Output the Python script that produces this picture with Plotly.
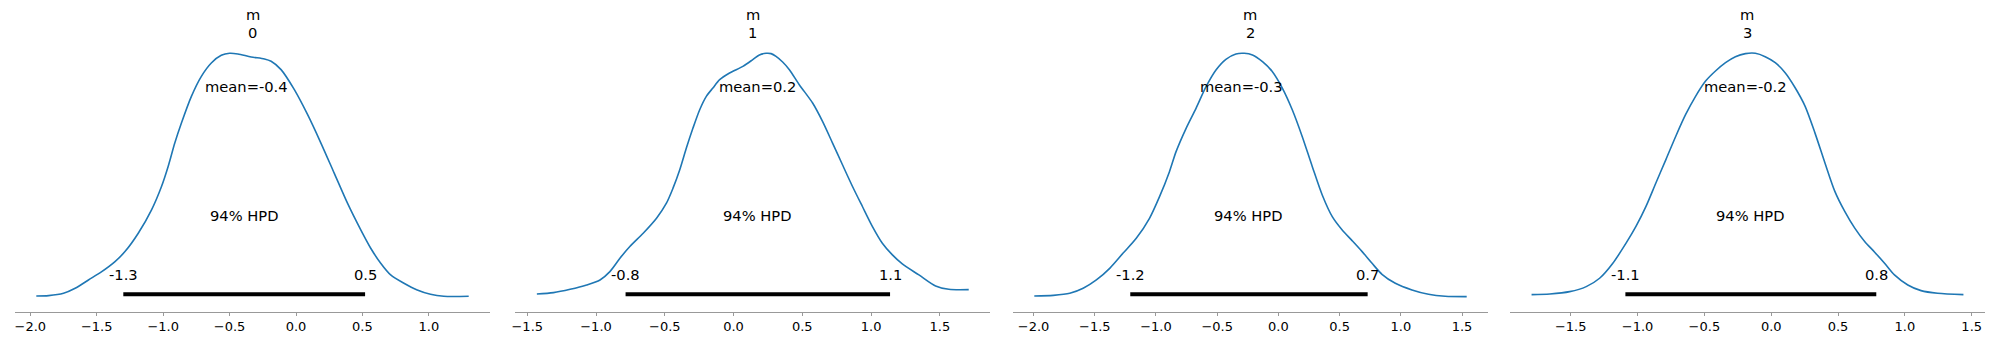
import plotly.graph_objects as go

# ---------------- data ----------------
panel_labels = ["0", "1", "2", "3"]
var_name = "m"

x0 = [-1.955, -1.8625, -1.75, -1.6625, -1.5625, -1.4625, -1.3625, -1.2875, -1.1875, -1.0875,
      -1.0125, -0.9625, -0.9125, -0.8625, -0.7875, -0.7125, -0.6375, -0.5625, -0.5, -0.4375,
      -0.3375, -0.2375, -0.1875, -0.1125, -0.0125, 0.0875, 0.1875, 0.2875, 0.3875, 0.4875,
      0.5625, 0.6375, 0.7125, 0.8125, 0.9125, 1.0125, 1.1125, 1.3]
d0 = [0.0138, 0.0152, 0.0247, 0.0450, 0.0789, 0.1127, 0.1534, 0.1940, 0.2685, 0.3633,
      0.4582, 0.5394, 0.6343, 0.7155, 0.8239, 0.9052, 0.9594, 0.9905, 0.9986, 0.9959,
      0.9837, 0.9756, 0.9661, 0.9323, 0.8510, 0.7494, 0.6343, 0.5123, 0.3904, 0.2820,
      0.2075, 0.1466, 0.0992, 0.0653, 0.0382, 0.0206, 0.0125, 0.0125]

x1 = [-1.430, -1.309, -1.188, -1.068, -0.971, -0.899, -0.826, -0.754, -0.657, -0.560,
      -0.488, -0.440, -0.391, -0.343, -0.295, -0.246, -0.198, -0.150, -0.101, -0.029,
      0.068, 0.140, 0.188, 0.237, 0.273, 0.309, 0.357, 0.406, 0.478, 0.575, 0.647, 0.720,
      0.792, 0.865, 0.937, 1.010, 1.082, 1.155, 1.227, 1.348, 1.469, 1.565, 1.710]
d1 = [0.0219, 0.0274, 0.0409, 0.0585, 0.0789, 0.1127, 0.1669, 0.2143, 0.2685, 0.3295,
      0.3904, 0.4514, 0.5259, 0.6139, 0.6952, 0.7697, 0.8239, 0.8578, 0.8916, 0.9187,
      0.9458, 0.9729, 0.9919, 0.9986, 0.9973, 0.9864, 0.9634, 0.9323, 0.8713, 0.7968, 0.7223, 0.6343,
      0.5462, 0.4582, 0.3769, 0.2956, 0.2279, 0.1805, 0.1439, 0.0992, 0.0545, 0.0409, 0.0396]

x2 = [-1.994, -1.839, -1.704, -1.595, -1.487, -1.378, -1.270, -1.161, -1.053, -0.971,
      -0.890, -0.836, -0.754, -0.673, -0.591, -0.510, -0.429, -0.347, -0.279, -0.212,
      -0.130, -0.049, 0.033, 0.114, 0.195, 0.277, 0.358, 0.440, 0.521, 0.602,
      0.684, 0.765, 0.846, 0.955, 1.091, 1.226, 1.362, 1.538]
d2 = [0.0138, 0.0165, 0.0247, 0.0450, 0.0789, 0.1263, 0.1872, 0.2482, 0.3295, 0.4175,
      0.5191, 0.6004, 0.6952, 0.7765, 0.8645, 0.9323, 0.9756, 0.9973, 1.0000, 0.9932,
      0.9661, 0.9255, 0.8578, 0.7697, 0.6613, 0.5394, 0.4243, 0.3362, 0.2820, 0.2387,
      0.1940, 0.1466, 0.1019, 0.0653, 0.0382, 0.0206, 0.0125, 0.0111]

x3 = [-1.793, -1.656, -1.508, -1.384, -1.284, -1.185, -1.086, -1.012, -0.937, -0.863,
      -0.788, -0.714, -0.640, -0.565, -0.491, -0.417, -0.342, -0.268, -0.193, -0.119,
      -0.045, 0.030, 0.104, 0.179, 0.253, 0.327, 0.402, 0.476, 0.550, 0.625,
      0.699, 0.774, 0.848, 0.922, 1.022, 1.121, 1.245, 1.438]
d3 = [0.0192, 0.0219, 0.0314, 0.0518, 0.0857, 0.1466, 0.2279, 0.2956, 0.3769, 0.4717,
      0.5665, 0.6613, 0.7494, 0.8239, 0.8848, 0.9255, 0.9594, 0.9837, 0.9959, 0.9973,
      0.9837, 0.9594, 0.9187, 0.8578, 0.7833, 0.6749, 0.5530, 0.4379, 0.3566, 0.2888,
      0.2347, 0.1913, 0.1466, 0.0992, 0.0585, 0.0355, 0.0247, 0.0192]

means = [-0.375, 0.176, -0.298, -0.189]
hpd_low = [-1.30, -0.785, -1.210, -1.091]
hpd_high = [0.52, 1.138, 0.729, 0.786]
credible_label = "94% HPD"

xs = [x0, x1, x2, x3]
ds = [d0, d1, d2, d3]

# ---------------- layout ----------------
W, H = 1995, 339
dom_px = [(10.7, 487.3), (512.3, 988.3), (1010.7, 1487.3), (1509.0, 1985.0)]
y_top_px, y_bot_px = 41.0, 311.7
ydom = [(H - y_bot_px) / H, (H - y_top_px) / H]

curve_color = "#1f77b4"
font_family = "DejaVu Sans"
text_size = 14.7
tick_size = 13

fig = go.Figure()
layout = dict(
    width=W, height=H,
    margin=dict(l=0, r=0, t=0, b=0),
    paper_bgcolor="white", plot_bgcolor="white",
    showlegend=False,
    font=dict(family=font_family, color="black"),
)
annotations = []

for i in range(4):
    xa = "x" if i == 0 else f"x{i+1}"
    ya = "y" if i == 0 else f"y{i+1}"
    xk = "xaxis" if i == 0 else f"xaxis{i+1}"
    yk = "yaxis" if i == 0 else f"yaxis{i+1}"
    x = xs[i]
    d = ds[i]
    xmin, xmax = min(x), max(x)
    span = xmax - xmin
    dmax = max(d)
    plot_height = 1.05 * dmax

    fig.add_trace(go.Scatter(x=x, y=d, mode="lines", xaxis=xa, yaxis=ya,
                             line=dict(color=curve_color, width=1.6, shape="spline", smoothing=0.8),
                             hoverinfo="skip"))
    fig.add_trace(go.Scatter(x=[hpd_low[i], hpd_high[i]], y=[0.02 * plot_height] * 2,
                             mode="lines", xaxis=xa, yaxis=ya,
                             line=dict(color="black", width=4), hoverinfo="skip"))

    layout[xk] = dict(
        domain=[dom_px[i][0] / W, dom_px[i][1] / W],
        anchor=ya,
        range=[xmin - 0.05 * span, xmax + 0.05 * span],
        showgrid=False, zeroline=False,
        showline=True, linecolor="#999999", linewidth=1,
        ticks="outside", ticklen=3, tickcolor="#999999", tickwidth=1,
        dtick=0.5, tick0=0, tickformat=".1f",
        tickfont=dict(family=font_family, size=tick_size, color="black"),
        fixedrange=True,
    )
    layout[yk] = dict(
        domain=ydom, anchor=xa,
        range=[-0.05 * dmax, 1.05 * dmax],
        visible=False, showgrid=False, zeroline=False, fixedrange=True,
    )

    def txt(xv, yv, s):
        annotations.append(dict(x=xv, y=yv, xref=xa, yref=ya, text=s, showarrow=False,
                                xanchor="center", yanchor="bottom", yshift=-4,
                                font=dict(family=font_family, size=text_size, color="black")))

    txt(means[i], 0.8 * plot_height, f"mean={means[i]:.1f}")
    txt((hpd_low[i] + hpd_high[i]) / 2, 0.3 * plot_height, credible_label)
    txt(hpd_low[i], 0.07 * plot_height, f"{hpd_low[i]:.1f}")
    txt(hpd_high[i], 0.07 * plot_height, f"{hpd_high[i]:.1f}")

    cx = (dom_px[i][0] + dom_px[i][1]) / 2 / W
    annotations.append(dict(x=cx, y=1 - 14 / H, xref="paper", yref="paper", text=var_name,
                            showarrow=False, xanchor="center", yanchor="middle",
                            font=dict(family=font_family, size=text_size, color="black")))
    annotations.append(dict(x=cx, y=1 - 32 / H, xref="paper", yref="paper", text=panel_labels[i],
                            showarrow=False, xanchor="center", yanchor="middle",
                            font=dict(family=font_family, size=text_size, color="black")))

layout["annotations"] = annotations
fig.update_layout(**layout)
fig.write_html("out.html")
